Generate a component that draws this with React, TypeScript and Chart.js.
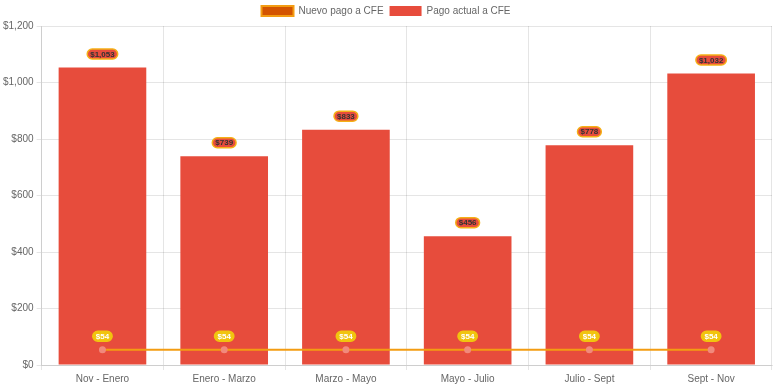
import React, { useEffect, useRef } from "react";
import { Chart, registerables } from "chart.js";

Chart.register(...registerables);

const categories = ["Nov - Enero", "Enero - Marzo", "Marzo - Mayo", "Mayo - Julio", "Julio - Sept", "Sept - Nov"];
const nuevoPago = [54, 54, 54, 54, 54, 54];
const pagoActual = [1053, 739, 833, 456, 778, 1032];
const yTicks = [0, 200, 400, 600, 800, 1000, 1200];

const fmt = (v: number) => "$" + v.toLocaleString("en-US");

const labelPlugin = {
  id: "valueLabels",
  afterDatasetsDraw(chart: any) {
    const ctx = chart.ctx;
    chart.data.datasets.forEach((ds: any, i: number) => {
      const meta = chart.getDatasetMeta(i);
      if (meta.hidden) return;
      const isLine = ds.type === "line";
      meta.data.forEach((el: any, j: number) => {
        const text = fmt(ds.data[j]);
        ctx.save();
        ctx.font = "bold 8px Arial, 'Liberation Sans', sans-serif";
        const tw = ctx.measureText(text).width;
        const w = tw + 6;
        const h = 10;
        const cx = el.x;
        const cy = el.y - 13.5;
        ctx.beginPath();
        ctx.roundRect(cx - w / 2, cy - h / 2, w, h, 5);
        ctx.fillStyle = isLine ? "#f1c40f" : "#e74c3c";
        ctx.fill();
        ctx.lineWidth = 1.5;
        ctx.strokeStyle = isLine ? "#f1c40f" : "#f5b017";
        ctx.stroke();
        ctx.fillStyle = isLine ? "#ffffff" : "#333333";
        ctx.textAlign = "center";
        ctx.textBaseline = "middle";
        ctx.fillText(text, cx, cy + 0.5);
        ctx.restore();
      });
    });
  },
};

export default function App() {
  const ref = useRef<HTMLCanvasElement>(null);
  useEffect(() => {
    document.body.style.margin = "0";
    const chart = new Chart(ref.current!, {
      type: "bar",
      data: {
        labels: categories,
        datasets: [
          {
            type: "line",
            label: "Nuevo pago a CFE",
            data: nuevoPago,
            borderColor: "#f39c12",
            backgroundColor: "#d35400",
            borderWidth: 2,
            pointRadius: 3.5,
            pointBackgroundColor: "#f1897c",
            pointBorderColor: "#f1897c",
            pointBorderWidth: 0,
            fill: false,
            tension: 0,
          } as any,
          {
            type: "bar",
            label: "Pago actual a CFE",
            data: pagoActual,
            backgroundColor: "#e74c3c",
            borderColor: "#e74c3c",
            borderWidth: 0,
          },
        ],
      },
      options: {
        responsive: false,
        animation: false,
        layout: { padding: { left: 0, right: 4, top: 0, bottom: 0 } },
        plugins: {
          legend: {
            position: "top",
            labels: {
              boxWidth: 32,
              boxHeight: 10,
              padding: 6,
              color: "#666",
              font: { size: 10, family: "Arial, 'Liberation Sans', sans-serif" },
            },
          },
          tooltip: { enabled: false },
        },
        scales: {
          x: {
            grid: { color: "rgba(0,0,0,0.1)", offset: true, tickLength: 5 },
            ticks: { color: "#666", font: { size: 10, family: "Arial, 'Liberation Sans', sans-serif" } },
          },
          y: {
            min: 0,
            max: 1200,
            afterBuildTicks: (axis: any) => {
              axis.ticks = yTicks.map((v) => ({ value: v }));
            },
            grid: { color: "rgba(0,0,0,0.1)", tickLength: 5 },
            ticks: {
              color: "#666",
              font: { size: 10, family: "Arial, 'Liberation Sans', sans-serif" },
              callback: (v: any) => fmt(Number(v)),
            },
          },
        },
      },
      plugins: [labelPlugin],
    });
    return () => chart.destroy();
  }, []);
  return <canvas ref={ref} width={776} height={388} style={{ display: "block" }} />;
}
